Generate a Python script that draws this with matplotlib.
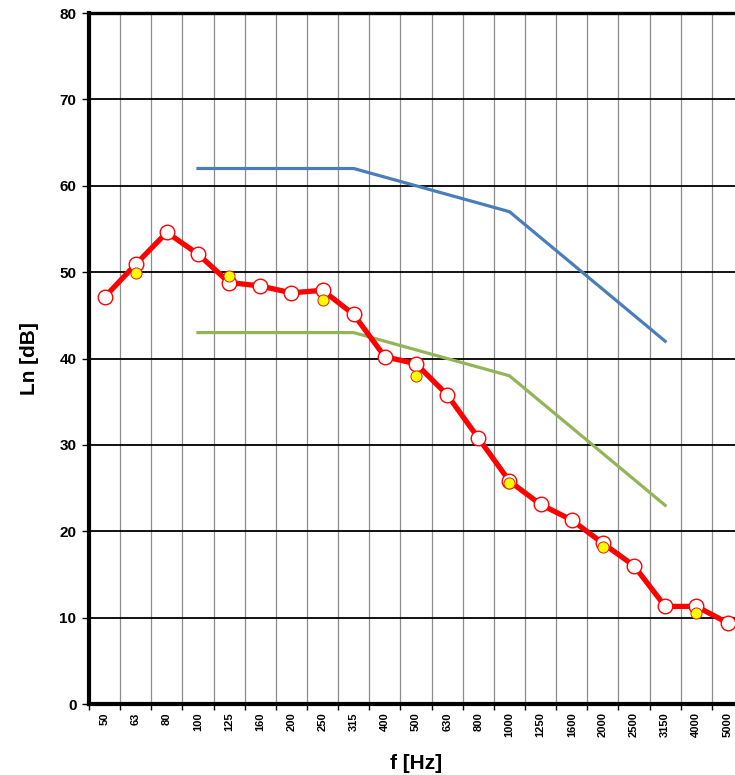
import numpy as np
import matplotlib.pyplot as plt
from matplotlib.ticker import FixedLocator, NullFormatter

plt.rcParams['font.family'] = ['Liberation Sans', 'DejaVu Sans']

freqs = ['50', '63', '80', '100', '125', '160', '200', '250', '315', '400', '500',
         '630', '800', '1000', '1250', '1600', '2000', '2500', '3150', '4000', '5000']

# measured level (red line with white markers)
ln_meas = [47.1, 50.9, 54.6, 52.1, 48.8, 48.4, 47.6, 47.9, 45.1, 40.2, 39.4,
           35.8, 30.8, 25.8, 23.1, 21.3, 18.6, 16.0, 11.3, 11.3, 9.4]

# second series, yellow points only
yel_freqs = ['63', '125', '250', '500', '1000', '2000', '4000']
yel_vals = [49.9, 49.5, 46.8, 38.0, 25.6, 18.2, 10.5]

# reference curves
ref_freqs = ['100', '315', '1000', '3150']
blue_vals = [62, 62, 57, 42]
green_vals = [43, 43, 38, 23]

idx = {f: i for i, f in enumerate(freqs)}
x = np.arange(len(freqs))

fig = plt.figure(figsize=(7.35, 7.75), dpi=100)
ax = fig.add_axes([0.121, 0.0916, 0.89, 0.8916])

# grid
for k in range(len(freqs) + 1):
    ax.axvline(k - 0.5, color='#8c8c8c', lw=0.9, zorder=1)
for yv in range(10, 80, 10):
    ax.axhline(yv, color='black', lw=1.3, zorder=1)
ax.axhline(80, color='black', lw=2.4, zorder=1, clip_on=False)

ax.plot([idx[f] for f in ref_freqs], blue_vals, color='#4a7ebb', lw=2.3, zorder=3)
ax.plot([idx[f] for f in ref_freqs], green_vals, color='#93b557', lw=2.3, zorder=3)

ax.plot(x, ln_meas, color='#ff0000', lw=3.8, marker='o', markersize=10.5,
        markerfacecolor='white', markeredgecolor='#ff0000', markeredgewidth=1.0, zorder=4)
ax.plot([idx[f] for f in yel_freqs], yel_vals, linestyle='none', marker='o', markersize=8,
        markerfacecolor='#ffff00', markeredgecolor='#e02000', markeredgewidth=0.7, zorder=5)

ax.set_xlim(-0.5, len(freqs) - 0.5)
ax.set_ylim(0, 80)

ax.set_xticks(x)
ax.set_xticklabels(freqs, rotation=90, fontsize=8, fontweight='bold')
ax.xaxis.set_minor_locator(FixedLocator(np.arange(len(freqs) + 1) - 0.5))
ax.xaxis.set_minor_formatter(NullFormatter())
ax.tick_params(axis='x', which='major', length=0, pad=6)
ax.tick_params(axis='x', which='minor', length=4, width=1, direction='out')

ax.set_yticks(range(0, 81, 10))
ax.set_yticklabels([str(v) for v in range(0, 81, 10)], fontsize=11, fontweight='bold')
ax.tick_params(axis='y', length=5, width=1, direction='out', pad=4)

for s in ['top', 'right']:
    ax.spines[s].set_visible(False)
ax.spines['left'].set_linewidth(3)
ax.spines['bottom'].set_linewidth(3)

ax.set_xlabel('f [Hz]', fontsize=15, fontweight='bold', labelpad=12)
ax.set_ylabel('Ln [dB]', fontsize=15, fontweight='bold', labelpad=15)

fig.savefig('out.png', dpi=100)
